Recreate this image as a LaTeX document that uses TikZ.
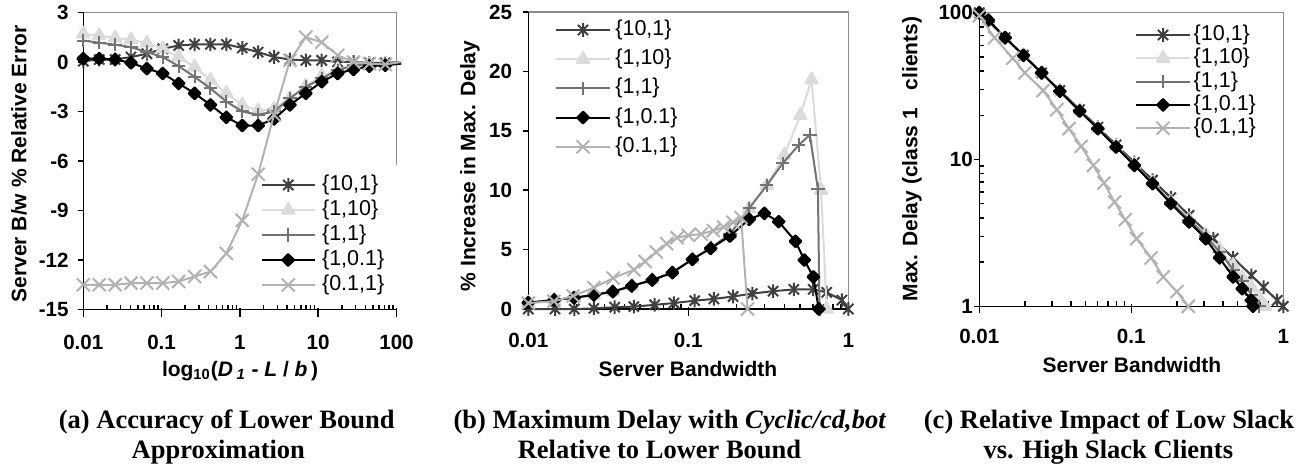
\documentclass[tikz,border=0pt]{standalone}
\usepackage{fontspec}
\setmainfont{Liberation Serif}
\setsansfont{Liberation Sans}
\usetikzlibrary{plotmarks}
\definecolor{tenonecol}{gray}{0.25}
\definecolor{onetencol}{gray}{0.86}
\definecolor{oneonecol}{gray}{0.45}
\definecolor{tenthonecol}{gray}{0.70}
\definecolor{framecol}{gray}{0.55}
\pgfdeclareplotmark{xstar}{%
  \pgfpathmoveto{\pgfqpoint{0pt}{\pgfplotmarksize}}%
  \pgfpathlineto{\pgfqpoint{0pt}{-\pgfplotmarksize}}%
  \pgfpathmoveto{\pgfqpoint{-.75\pgfplotmarksize}{-.75\pgfplotmarksize}}%
  \pgfpathlineto{\pgfqpoint{.75\pgfplotmarksize}{.75\pgfplotmarksize}}%
  \pgfpathmoveto{\pgfqpoint{-.75\pgfplotmarksize}{.75\pgfplotmarksize}}%
  \pgfpathlineto{\pgfqpoint{.75\pgfplotmarksize}{-.75\pgfplotmarksize}}%
  \pgfusepathqstroke}
\tikzset{
  dataline/.style={line width=1pt, line join=round},
  tenone/.style={dataline, color=tenonecol, mark=xstar, mark size=3.4pt},
  oneten/.style={dataline, color=onetencol, mark=triangle*, mark size=3.6pt},
  oneone/.style={dataline, color=oneonecol, mark=+, mark size=3.3pt},
  onetenth/.style={dataline, color=black, mark=square*, mark size=2.1pt, mark options={rotate=45}},
  tenthone/.style={dataline, color=tenthonecol, mark=x, mark size=4.6pt},
  axisline/.style={black, line width=0.75pt},
  plotframe/.style={framecol, line width=0.75pt},
  ticklabel/.style={font=\sffamily\bfseries\fontsize{10.3}{12}\selectfont, inner sep=0pt},
  axistitle/.style={font=\sffamily\bfseries\fontsize{10.5}{12}\selectfont, inner sep=0pt},
  legendtext/.style={font=\sffamily\fontsize{10.75}{12}\selectfont, anchor=west, inner sep=0pt},
  captiontext/.style={font=\rmfamily\bfseries\fontsize{13.25}{15}\selectfont, anchor=base, inner sep=0pt},
}
\begin{document}
\begin{tikzpicture}[x=0.5pt, y=-0.5pt]
\useasboundingbox (0,0) rectangle (1302,465);

% (a)
\begin{scope}[shift={(83.3,62)}, x=39.15pt, y=8.25pt]
  \draw[plotframe] (0,3) -- (4,3) -- (4,-6.25);
  \draw[axisline] (0,3) -- (0,-15) -- (4,-15);
  \foreach \v [count=\i] in {-15,-12,...,3} {
    \draw[axisline] (0,\v) -- ++(-2.5pt,0);
    \node[ticklabel, anchor=east, xshift=-7.15pt] (ayt\i) at (0,\v) {\v};
  }
  \foreach \d/\t [count=\i] in {0/0.01,1/0.1,2/1,3/10,4/100} {
    \draw[axisline] ([yshift=1pt]\d,-15) -- ++(0,-4.5pt);
    \node[ticklabel, yshift=-16.7pt] (axt\i) at (\d,-15) {\t};
  }
  \foreach \d in {0,...,3}
    \foreach \m in {2,...,9}
      \draw[axisline] ({\d+log10(\m)},-15) -- ++(0,2.5pt);

  \draw[tenone, mark indices={1,...,20}] plot coordinates {(0,0.05) (0.203,0.15) (0.406,0.15) (0.609,0.3) (0.812,0.5) (1.015,0.8) (1.218,1.0) (1.421,1.07) (1.624,1.07) (1.827,1.07) (2.03,0.85) (2.233,0.6) (2.436,0.3) (2.639,0.15) (2.842,0.1) (3.045,0.1) (3.248,0) (3.451,0) (3.654,-0.05) (3.857,-0.05) (4.06,0)};
  \draw[oneten, mark indices={1,...,20}] plot coordinates {(0,1.7) (0.203,1.6) (0.406,1.47) (0.609,1.35) (0.812,1.15) (1.015,0.8) (1.218,0.3) (1.421,-0.3) (1.624,-1.1) (1.827,-1.9) (2.03,-2.6) (2.233,-2.95) (2.436,-2.85) (2.639,-2.2) (2.842,-1.45) (3.045,-0.85) (3.248,-0.45) (3.451,-0.25) (3.654,-0.15) (3.857,-0.1) (4.06,0)};
  \draw[oneone, mark indices={1,...,20}] plot coordinates {(0,1.3) (0.203,1.17) (0.406,1.05) (0.609,0.9) (0.812,0.6) (1.015,0.3) (1.218,-0.25) (1.421,-0.9) (1.624,-1.6) (1.827,-2.4) (2.03,-3.0) (2.233,-3.2) (2.436,-3.0) (2.639,-2.2) (2.842,-1.5) (3.045,-1.0) (3.248,-0.5) (3.451,-0.2) (3.654,-0.15) (3.857,-0.1) (4.06,0)};
  \draw[onetenth, mark indices={1,...,20}] plot coordinates {(0,0.2) (0.203,0.2) (0.406,0.15) (0.609,-0.05) (0.812,-0.4) (1.015,-0.7) (1.218,-1.3) (1.421,-1.9) (1.624,-2.6) (1.827,-3.35) (2.03,-3.85) (2.233,-3.85) (2.436,-3.45) (2.639,-2.6) (2.842,-1.9) (3.045,-1.2) (3.248,-0.7) (3.451,-0.45) (3.654,-0.25) (3.857,-0.2) (4.06,-0.1)};
  \draw[tenthone, mark indices={1,...,20}] plot coordinates {(0,-13.5) (0.203,-13.5) (0.406,-13.5) (0.609,-13.4) (0.812,-13.4) (1.015,-13.4) (1.218,-13.3) (1.421,-13.0) (1.624,-12.7) (1.827,-11.6) (2.03,-9.6) (2.233,-6.8) (2.436,-3.2) (2.639,0.1) (2.842,1.5) (3.045,1.2) (3.248,0.4) (3.451,0) (3.654,-0.1) (3.857,-0.15) (4.06,0)};
\end{scope}
\foreach \s/\t [count=\i] in {tenone/{\{10,1\}}, oneten/{\{1,10\}}, oneone/{\{1,1\}}, onetenth/{\{1,0.1\}}, tenthone/{\{0.1,1\}}} {
  \draw[\s, mark indices={2}] plot coordinates {(261.7,{160+25*\i}) (288.3,{160+25*\i}) (315,{160+25*\i})};
  \node[legendtext] (aleg\i) at (321.7,{160+25*\i}) {\t};
}
\node[axistitle, rotate=90] (aytitle) at (19,164) {Server B/w \% Relative Error};
\node[axistitle, anchor=base] (axtitle) at (240,376) {log\textsubscript{10}(\textit{D}\,\textsubscript{\textit{1}}\ - \textit{L} / \textit{b}\,)};
\node[captiontext] (acap1) at (226.7,428.3) {(a) Accuracy of Lower Bound};
\node[captiontext] (acap2) at (218.3,458.3) {Approximation};

% (b)
\begin{scope}[shift={(528.3,309)}, x=80pt, y=5.94pt]
  \draw[plotframe] (0,25) -- (2,25) -- (2,0);
  \draw[axisline] (0,25) -- (0,0) -- (2,0);
  \foreach \v [count=\i] in {0,5,...,25} {
    \draw[axisline] (0,\v) -- ++(-2.5pt,0);
    \node[ticklabel, anchor=east, xshift=-7.9pt] (byt\i) at (0,\v) {\v};
  }
  \foreach \d/\t [count=\i] in {0/0.01,1/0.1,2/1} {
    \draw[axisline] ([yshift=1pt]\d,0) -- ++(0,-4.5pt);
    \node[ticklabel, yshift=-15.5pt] (bxt\i) at (\d,0) {\t};
  }
  \foreach \d in {0,1}
    \foreach \m in {2,...,9}
      \draw[axisline] ({\d+log10(\m)},0) -- ++(0,2.5pt);

  \draw[tenone] plot coordinates {(0,0) (0.167,0) (0.2875,0) (0.41,0.05) (0.54,0.15) (0.66,0.2) (0.79,0.35) (0.91,0.5) (1.04,0.7) (1.16,0.85) (1.28,1.05) (1.40,1.3) (1.53,1.5) (1.66,1.65) (1.78,1.65) (1.865,1.4) (1.96,0.75) (2,0)};
  \draw[oneten] plot coordinates {(0,0.53) (0.1625,0.76) (0.286,0.95) (0.41,1.18) (0.528,1.46) (0.646,1.94) (0.775,2.44) (0.9,3.06) (1.025,4.18) (1.14,5.15) (1.26,6.3) (1.38,8.47) (1.49,10.4) (1.6,12.96) (1.70,16.3) (1.77,19.3) (1.83,10.0) (1.865,0)};
  \draw[oneone] plot coordinates {(0,0.53) (0.1625,0.76) (0.286,0.95) (0.41,1.18) (0.528,1.46) (0.646,1.94) (0.775,2.44) (0.9,3.06) (1.025,4.18) (1.14,5.15) (1.26,6.3) (1.38,8.47) (1.49,10.4) (1.59,12.26) (1.69,13.8) (1.76,14.65) (1.81,10.08) (1.82,0)};
  \draw[onetenth] plot coordinates {(0,0.53) (0.1625,0.76) (0.286,0.95) (0.41,1.18) (0.528,1.46) (0.646,1.94) (0.775,2.44) (0.9,3.06) (1.025,4.18) (1.14,5.1) (1.26,6.14) (1.38,7.55) (1.475,8.05) (1.565,7.35) (1.67,5.7) (1.725,4.12) (1.782,2.7) (1.815,0)};
  \draw[tenthone] plot coordinates {(0,0.5) (0.16,0.65) (0.28,1.1) (0.41,1.8) (0.53,2.6) (0.66,3.3) (0.73,4.0) (0.80,4.8) (0.865,5.5) (0.93,6.0) (1.0,6.2) (1.08,6.3) (1.156,6.6) (1.22,6.9) (1.28,7.3) (1.33,7.7) (1.37,0)};
\end{scope}
\foreach \s/\t [count=\i] in {tenone/{\{10,1\}}, oneten/{\{1,10\}}, oneone/{\{1,1\}}, onetenth/{\{1,0.1\}}, tenthone/{\{0.1,1\}}} {
  \draw[\s, mark indices={2}] plot coordinates {(556,{0.8+29.2*\i}) (583,{0.8+29.2*\i}) (610,{0.8+29.2*\i})};
  \node[legendtext] (bleg\i) at (615,{0.8+29.2*\i}) {\t};
}
\node[axistitle, rotate=90] (bytitle) at (470,166) {\% Increase in Max. Delay};
\node[axistitle, anchor=base] (bxtitle) at (688,376.7) {Server Bandwidth};
\node[captiontext] (bcap1) at (670,428.3) {(b) Maximum Delay with \textit{Cyclic/cd,bot}};
\node[captiontext] (bcap2) at (659.5,458.3) {Relative to Lower Bound};

% (c)
\begin{scope}[shift={(979.3,306.3)}, x=76pt, y=73.4pt]
  \draw[plotframe] (0,2) -- (2,2) -- (2,0);
  \draw[axisline] (0,2) -- (0,0) -- (2,0);
  \foreach \v/\t [count=\i] in {0/1,1/10,2/100} {
    \draw[axisline] (0,\v) -- ++(-2.5pt,0);
    \node[ticklabel, anchor=east, xshift=-3pt] (cyt\i) at (0,\v) {\t};
  }
  \foreach \d/\t [count=\i] in {0/0.01,1/0.1,2/1} {
    \draw[axisline] ([yshift=1pt]\d,0) -- ++(0,-4.5pt);
    \node[ticklabel, yshift=-15.2pt] (cxt\i) at (\d,0) {\t};
  }
  \foreach \d in {0,1}
    \foreach \m in {2,...,9} {
      \draw[axisline] ({\d+log10(\m)},0) -- ++(0,2.5pt);
      \draw[axisline] (0,{\d+log10(\m)}) -- ++(2.5pt,0);
    }

  \draw[tenone] plot coordinates {(0,2) (0.17,1.83) (0.29,1.71) (0.41,1.59) (0.53,1.47) (0.66,1.34) (0.78,1.22) (0.90,1.10) (1.02,0.98) (1.14,0.86) (1.26,0.74) (1.38,0.62) (1.54,0.46) (1.67,0.33) (1.79,0.21) (1.87,0.13) (1.96,0.04) (2,0)};
  \draw[oneten] plot coordinates {(0,2) (0.06,1.94) (0.17,1.83) (0.29,1.71) (0.41,1.59) (0.53,1.465) (0.66,1.335) (0.78,1.21) (0.90,1.09) (1.02,0.965) (1.14,0.84) (1.26,0.71) (1.38,0.59) (1.49,0.49) (1.58,0.39) (1.67,0.28) (1.73,0.2) (1.79,0.13) (1.84,0.06) (1.88,0)};
  \draw[oneone] plot coordinates {(0,2) (0.06,1.94) (0.17,1.83) (0.29,1.71) (0.41,1.59) (0.53,1.465) (0.66,1.335) (0.78,1.21) (0.90,1.09) (1.02,0.965) (1.14,0.84) (1.26,0.71) (1.38,0.59) (1.49,0.48) (1.58,0.37) (1.67,0.25) (1.73,0.17) (1.79,0.08) (1.84,0)};
  \draw[onetenth] plot coordinates {(0,2) (0.06,1.95) (0.17,1.83) (0.29,1.71) (0.41,1.59) (0.53,1.465) (0.66,1.33) (0.78,1.21) (0.90,1.085) (1.02,0.96) (1.14,0.835) (1.26,0.70) (1.38,0.575) (1.49,0.46) (1.58,0.33) (1.67,0.20) (1.73,0.12) (1.79,0.04) (1.80,0)};
  \draw[tenthone] plot coordinates {(0,1.98) (0.10,1.83) (0.22,1.69) (0.30,1.59) (0.42,1.47) (0.51,1.34) (0.59,1.21) (0.67,1.09) (0.75,0.96) (0.82,0.84) (0.89,0.71) (0.96,0.59) (1.035,0.46) (1.13,0.33) (1.21,0.20) (1.30,0.10) (1.375,0)};
\end{scope}
\foreach \s/\t [count=\i] in {tenone/{\{10,1\}}, oneten/{\{1,10\}}, oneone/{\{1,1\}}, onetenth/{\{1,0.1\}}, tenthone/{\{0.1,1\}}} {
  \draw[\s, mark indices={2}] plot coordinates {(1136,{11.7+23.3*\i}) (1163,{11.7+23.3*\i}) (1190,{11.7+23.3*\i})};
  \node[legendtext] (cleg\i) at (1193.3,{11.7+23.3*\i}) {\t};
}
\node[axistitle, rotate=90] (cytitle) at (912,159) {Max. Delay (class 1\ \ \ clients)};
\node[axistitle, anchor=base] (cxtitle) at (1132,372.7) {Server Bandwidth};
\node[captiontext] (ccap1) at (1109,428.3) {(c) Relative Impact of Low Slack};
\node[captiontext] (ccap2) at (1108.3,458.3) {vs. High Slack Clients};
\end{tikzpicture}
\end{document}
